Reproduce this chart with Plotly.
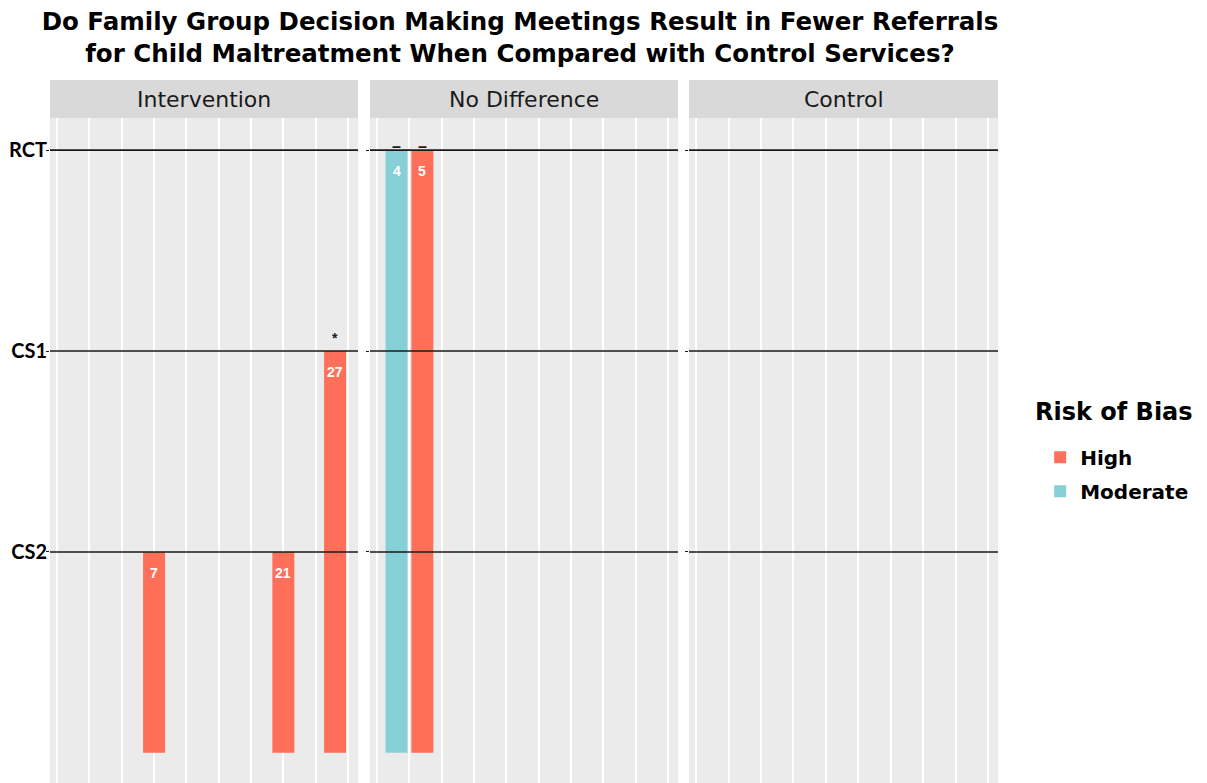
import plotly.graph_objects as go
from plotly.subplots import make_subplots

# Facets, study levels and risk-of-bias groups
panels = ["Intervention", "No Difference", "Control"]
levels = ["CS2", "CS1", "RCT"]
risks = ["High", "Moderate"]

# One entry per study
study_panel = ["Intervention", "Intervention", "Intervention", "No Difference", "No Difference"]
study_pos = [4, 8, 9.6, 1.6, 2.4]
study_level = ["CS2", "CS2", "CS1", "RCT", "RCT"]
study_risk = ["High", "High", "High", "Moderate", "High"]
study_label = ["7", "21", "27", "4", "5"]
study_mark = ["", "", "*", "–", "–"]

risk_colors = {"High": "#FF6F59", "Moderate": "#87CFD7"}
mark_style = {"*": dict(size=14, shift=3), "–": dict(size=16, shift=-7)}
level_value = {lv: i + 2 for i, lv in enumerate(levels)}
BASE = 1

# the page body adds an 8px margin, so the figure is 8px smaller than the window
fig = make_subplots(rows=1, cols=3, shared_yaxes=True)

for p_i, panel in enumerate(panels):
    col = p_i + 1
    for risk in risks:
        idx = [i for i in range(len(study_pos)) if study_panel[i] == panel and study_risk[i] == risk]
        fig.add_trace(go.Bar(
            x=[study_pos[i] for i in idx],
            y=[level_value[study_level[i]] - BASE for i in idx],
            base=BASE,
            width=0.68,
            marker=dict(color=risk_colors[risk], line=dict(width=0)),
            name=risk,
            legendgroup=risk,
            showlegend=(p_i == 1),
            hoverinfo="skip",
        ), row=1, col=col)

    xref = "x" if col == 1 else f"x{col}"
    # black reference lines at each level
    for lv in levels:
        fig.add_shape(type="line", xref=f"{xref} domain", yref="y",
                      x0=0, x1=1, y0=level_value[lv], y1=level_value[lv],
                      line=dict(color="#1a1a1a", width=1.6), layer="above")

    # facet strip
    fig.add_shape(type="rect", xref=f"{xref} domain", yref="paper",
                  x0=0, x1=1, y0=1.0, y1=1.0571, fillcolor="#D9D9D9", line=dict(width=0))
    fig.add_annotation(x=0.5, xref=f"{xref} domain", y=1.0286, yref="paper",
                       xanchor="center", yanchor="middle", yshift=-1,
                       text=panel, showarrow=False,
                       font=dict(family="DejaVu Sans", size=22, color="#1a1a1a"))

# count labels and marks
for i in range(len(study_pos)):
    col = panels.index(study_panel[i]) + 1
    xref = "x" if col == 1 else f"x{col}"
    fig.add_annotation(x=study_pos[i], y=level_value[study_level[i]], xref=xref, yref="y",
                       text=f"<b>{study_label[i]}</b>", showarrow=False, yshift=-21,
                       font=dict(size=14, color="white"))
    if study_mark[i]:
        ms = mark_style[study_mark[i]]
        fig.add_annotation(x=study_pos[i], y=level_value[study_level[i]], xref=xref, yref="y",
                           text=f"<b>{study_mark[i]}</b>", showarrow=False, yanchor="bottom",
                           yshift=ms["shift"], font=dict(size=ms["size"], color="#1a1a1a"))

domains = [[0, 308 / 948], [320 / 948, 628 / 948], [639 / 948, 1]]
for c in range(3):
    fig.update_xaxes(domain=domains[c], range=[0.78, 10.31], tickvals=list(range(1, 11)),
                     showticklabels=False, ticks="", showgrid=True, gridcolor="white",
                     gridwidth=1.5, zeroline=False, automargin=False, row=1, col=c + 1)

fig.update_yaxes(range=[0.85, 4.16], tickvals=[level_value[lv] for lv in levels],
                 ticktext=levels, showgrid=False, zeroline=False, ticks="outside",
                 ticklen=3, tickcolor="#1a1a1a", automargin=False, ticklabelstandoff=-5,
                 tickfont=dict(family="Lato", size=20, color="black", weight="bold"))

# legend title kept as a separate text so the items can sit lower
fig.add_annotation(x=1.0369, y=1 - (404 - 110) / 665, xref="paper", yref="paper",
                   xanchor="left", yanchor="middle", showarrow=False,
                   text="<b>Risk of Bias</b>",
                   font=dict(family="DejaVu Sans", size=24, color="black"))

fig.update_layout(
    width=1199, height=775,
    margin=dict(l=42, r=209, t=110, b=0),
    paper_bgcolor="white", plot_bgcolor="#EBEBEB",
    barmode="overlay",
    font=dict(family="Liberation Sans, Arial"),
    title=dict(text="<b>Do Family Group Decision Making Meetings Result in Fewer Referrals<br>"
                    "for Child Maltreatment When Compared with Control Services?</b>",
               x=512 / 1199, xanchor="center", y=1 - 22 / 775, yanchor="top", yref="container",
               automargin=False, font=dict(family="DejaVu Sans", size=24.5, color="black")),
    legend=dict(x=1.0445, y=0.519, xanchor="left", yanchor="top",
                font=dict(family="DejaVu Sans", size=20, color="black", weight="bold"),
                traceorder="grouped", itemwidth=30, tracegroupgap=5),
)

fig.write_html("out.html")
